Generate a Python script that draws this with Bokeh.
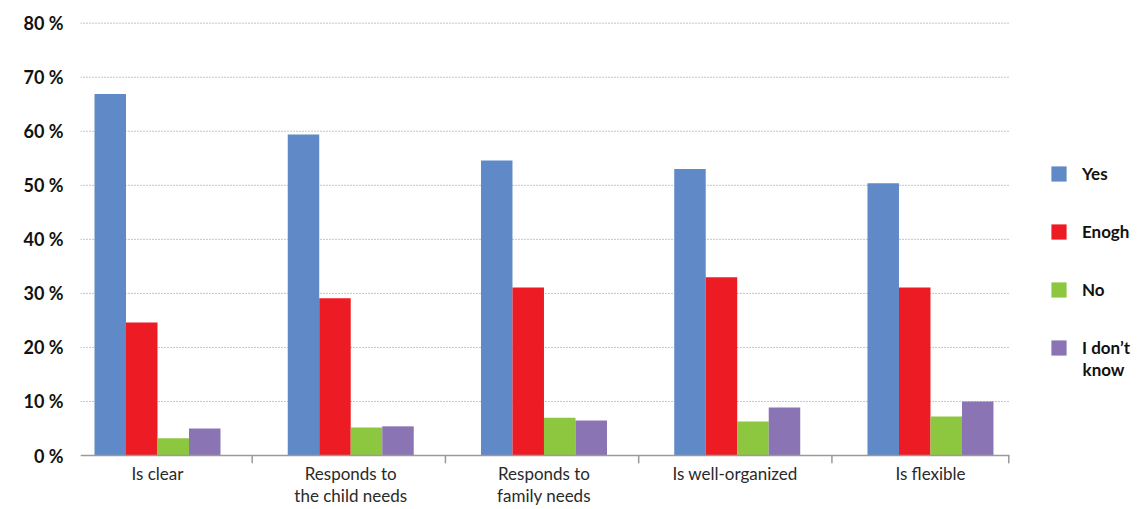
from bokeh.plotting import figure
from bokeh.models import Range1d, FixedTicker, Legend, LegendItem
from bokeh.core.properties import value
from bokeh.embed import file_html
from bokeh.resources import INLINE

categories = ["Is clear", "Responds to\nthe child needs", "Responds to\nfamily needs",
              "Is  well-organized", "Is flexible"]
series_names = ["Yes", "Enogh", "No", "I don\u2019t"]
last_name_tail = "know"
yes = [66.9, 59.4, 54.6, 53.0, 50.4]
enough = [24.6, 29.1, 31.1, 33.0, 31.1]
no = [3.2, 5.2, 7.0, 6.3, 7.2]
dont_know = [5.0, 5.4, 6.5, 8.9, 10.0]
y_ticks = [0, 10, 20, 30, 40, 50, 60, 70, 80]
y_tick_labels = ["0 %", "10 %", "20 %", "30 %", "40 %", "50 %", "60 %", "70 %", "80 %"]

colors = ["#5F8AC7", "#ED1C24", "#8DC63F", "#8A74B4"]
series = [yes, enough, no, dont_know]

FONT = "Lato"
n = len(categories)
x_lo, x_hi = -0.3984, 5.123      # visible x range (legend lives at the right)
x_end = 4.409                     # right end of the category axis

p = figure(width=1147, height=509, output_backend="svg", toolbar_location=None,
           x_range=Range1d(x_lo, x_hi), y_range=Range1d(-9.99, 80.5),
           min_border_left=80, min_border_right=0, min_border_top=20, min_border_bottom=0)
p.outline_line_color = None
p.background_fill_color = "white"
p.border_fill_color = "white"
p.xgrid.visible = False
p.ygrid.visible = False
p.xaxis.visible = False

# dotted horizontal gridlines over the category area only
gy = y_ticks[1:]
p.segment(x0=[x_lo] * len(gy), x1=[x_end] * len(gy), y0=gy, y1=gy,
          line_color="#8c8c8c", line_dash="1 2", line_width=1)

bar_w = 0.163
offsets = [-1.5 * bar_w, -0.5 * bar_w, 0.5 * bar_w, 1.5 * bar_w]
renderers = []
for vals, off, col in zip(series, offsets, colors):
    xs = [i + off for i in range(n)]
    r = p.vbar(x=xs, top=vals, width=bar_w, bottom=0, fill_color=col, line_color=None)
    renderers.append(r)

# category axis: baseline, separators, labels
p.segment(x0=[x_lo], x1=[x_end], y0=[0], y1=[0], line_color="#9a9a9a", line_width=1.5)
bounds = [i + 0.49 for i in range(n - 1)] + [x_end - 0.004]
p.segment(x0=bounds, x1=bounds, y0=[0] * len(bounds), y1=[-1.45] * len(bounds),
          line_color="#9a9a9a", line_width=1.5)
p.text(x=list(range(n)), y=[-1.35] * n, text=categories,
       text_font=value(FONT), text_font_size="17px", text_color="#2a2a2a",
       text_align="center", text_baseline="top", text_line_height=1.08)

# y axis
p.yaxis.ticker = FixedTicker(ticks=y_ticks)
p.yaxis.major_label_overrides = {t: l for t, l in zip(y_ticks, y_tick_labels)}
p.yaxis.axis_line_color = None
p.yaxis.major_tick_line_color = None
p.yaxis.major_tick_out = 0
p.yaxis.major_tick_in = 0
p.yaxis.minor_tick_line_color = None
p.yaxis.major_label_standoff = 17
p.yaxis.major_label_text_font = FONT
p.yaxis.major_label_text_font_style = "bold"
p.yaxis.major_label_text_font_size = "18px"
p.yaxis.major_label_text_color = "#111111"

legend = Legend(items=[LegendItem(label=nm, renderers=[r]) for nm, r in zip(series_names, renderers)],
                location=(969, 151))
legend.border_line_color = None
legend.background_fill_alpha = 0
legend.padding = 0
legend.margin = 0
legend.glyph_width = 19
legend.glyph_height = 19
legend.label_height = 20
legend.spacing = 37
legend.label_standoff = 14
legend.label_text_font = FONT
legend.label_text_font_style = "bold"
legend.label_text_font_size = "17px"
legend.label_text_color = "#111111"
p.add_layout(legend, "center")

p.text(x=[4.787], y=[15.9], text=[last_name_tail], text_font=value(FONT),
       text_font_style="bold", text_font_size="17px", text_color="#111111",
       text_baseline="middle", text_align="left")

open("out.html", "w").write(file_html(p, INLINE))
